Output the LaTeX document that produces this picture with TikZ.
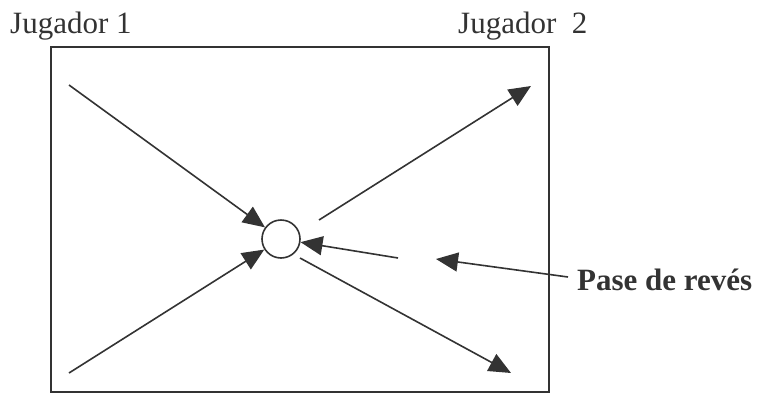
\documentclass[tikz,border=0pt]{standalone}
\usepackage{fontspec}
\setmainfont{Liberation Serif}
\usetikzlibrary{arrows.meta}
\definecolor{ink}{HTML}{333333}
\begin{document}
\begin{tikzpicture}[x=1pt,y=-1pt,
  lbl/.style={inner sep=0pt,anchor=base west,text=ink,font=\fontsize{31}{34}\selectfont},
  conn/.style={draw=ink,line width=1.6pt,-{Triangle[length=22pt,width=19pt]}},
  plain/.style={draw=ink,line width=1.6pt}]
\useasboundingbox (0,0) rectangle (758,394);
\draw[ink,line width=2pt] (51,47) rectangle (549,392);
\node[lbl] (j1) at (10,33) {Jugador 1};
\node[lbl] (j2) at (458,33) {Jugador\ \ 2};
\node[lbl,font=\fontsize{31}{34}\selectfont\bfseries] (pase) at (577,290) {Pase de revés};
\node[draw=ink,line width=1.6pt,circle,minimum size=38pt,inner sep=0pt] (ball) at (281,239) {};
\coordinate (a1) at (69,85);
\coordinate (b1) at (69,373);
\coordinate (c1) at (319,220);
\coordinate (c2) at (531,86);
\coordinate (d1) at (300,258);
\coordinate (d2) at (511,373);
\coordinate (e1) at (398,258);
\coordinate (f1) at (568,277);
\coordinate (f2) at (436,259);
\draw[conn] (a1) -- (ball);
\draw[conn] (b1) -- (ball);
\draw[conn] (c1) -- (c2);
\draw[conn] (d1) -- (d2);
\draw[conn] (e1) -- (ball);
\draw[conn] (f1) -- (f2);
\end{tikzpicture}
\end{document}
